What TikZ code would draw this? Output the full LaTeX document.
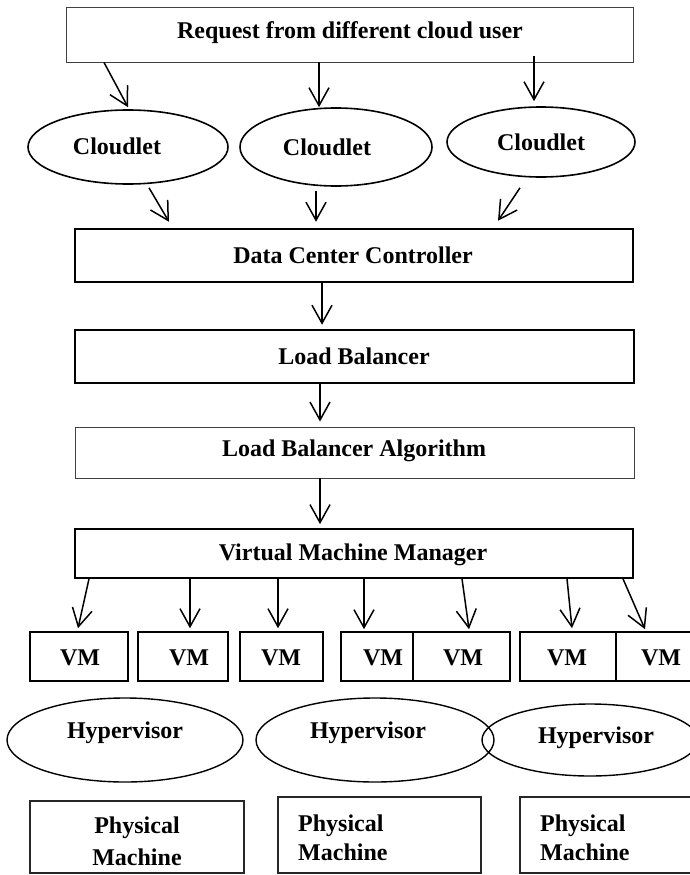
\documentclass[tikz,border=0pt]{standalone}
\usepackage{fontspec}
\setmainfont{Liberation Serif}
\usetikzlibrary{arrows.meta,shapes.geometric}
\tikzset{
  lbl/.style={font=\fontsize{24}{28}\selectfont\bfseries, inner sep=0pt, align=center},
  lblleft/.style={font=\fontsize{24}{29}\selectfont\bfseries, inner sep=0pt, align=left, anchor=west},
  thinbox/.style={draw=black!75, line width=0.9pt, fill=white, inner sep=0pt},
  thickbox/.style={draw=black, line width=2.5pt, fill=white, inner sep=0pt},
  midbox/.style={draw=black, line width=1.7pt, fill=white, inner sep=0pt},
  vmbox/.style={draw=black, line width=1.6pt, fill=white, inner sep=0pt, minimum height=49pt},
  pmbox/.style={draw=black!85, line width=1.3pt, inner sep=0pt},
  oval/.style={ellipse, draw=black, line width=1.6pt, inner sep=0pt},
  arr/.style={line width=1.5pt, -{Straight Barb[length=18pt,width=20pt,line width=1.5pt]}},
}
\begin{document}
\begin{tikzpicture}[x=1pt,y=-1pt]
\useasboundingbox (0,0) rectangle (690,875);
\fill[white] (0,0) rectangle (690,875);

% top request box
\node[thinbox, minimum width=567pt, minimum height=55pt] (top) at (349.5,34.5) {};
\node[lbl] (toptxt) at (350,33) {Request from different cloud user};

% cloudlets
\node[oval, minimum width=200pt, minimum height=74pt] (c1) at (128,147) {};
\node[oval, minimum width=192pt, minimum height=78pt] (c2) at (336,147) {};
\node[oval, minimum width=188pt, minimum height=70pt] (c3) at (541,142) {};
\node[lbl] (c1t) at (117,146) {Cloudlet};
\node[lbl] (c2t) at (327,147) {Cloudlet};
\node[lbl] (c3t) at (541,142) {Cloudlet};

\draw[arr] ([xshift=-245.5pt]top.south) -- ([yshift=2pt]c1.north);
\draw[arr] ([xshift=-30.5pt]top.south) -- ([xshift=-17pt,yshift=0pt]c2.north);
\draw[arr] ([xshift=184.5pt,yshift=6pt]top.south) -- ([xshift=-7pt,yshift=5pt]c3.north);

% main stack
\node[thickbox, minimum width=558pt, minimum height=53pt] (dcc) at (354,255.5) {};
\node[lbl] (dcct) at (353,255) {Data Center Controller};
\node[thickbox, minimum width=559pt, minimum height=53pt] (lb) at (354.5,356.5) {};
\node[lbl] (lbt) at (354,356) {Load Balancer};
\node[thinbox, minimum width=559pt, minimum height=51pt] (lba) at (354.5,452.5) {};
\node[lbl] (lbat) at (354,451) {Load Balancer Algorithm};
\node[midbox, minimum width=558pt, minimum height=49pt] (vmm) at (354,553.5) {};
\node[lbl] (vmmt) at (353,555) {Virtual Machine Manager};

\draw[arr] ([xshift=21pt,yshift=-3pt]c1.south) -- ([xshift=-185pt,yshift=6pt]dcc.north);
\draw[arr] ([xshift=-20pt,yshift=-4pt]c2.south) -- ([xshift=-38pt,yshift=6pt]dcc.north);
\draw[arr] ([xshift=-21pt,yshift=-10pt]c3.south) -- ([xshift=144pt,yshift=7pt]dcc.north);

\draw[arr] ([xshift=-32pt]dcc.south) -- ([xshift=-32.5pt,yshift=4pt]lb.north);
\draw[arr] ([xshift=-34.5pt]lb.south) -- ([xshift=-34.5pt,yshift=5pt]lba.north);
\draw[arr] ([xshift=-34.5pt]lba.south) -- ([xshift=-34pt,yshift=4pt]vmm.north);

% VMs
\node[vmbox, minimum width=98pt] (vm1) at (79,656.5) {};
\node[vmbox, minimum width=90pt] (vm2) at (183,656.5) {};
\node[vmbox, minimum width=83pt] (vm3) at (281.5,656.5) {};
\node[vmbox, minimum width=83pt] (vm4) at (382.5,656.5) {};
\node[vmbox, minimum width=97pt] (vm5) at (461.5,656.5) {};
\node[vmbox, minimum width=96pt] (vm6) at (568,656.5) {};
\node[vmbox, minimum width=90pt] (vm7) at (661,656.5) {};
\node[lbl] (vm1t) at (80,658) {VM};
\node[lbl] (vm2t) at (189,658) {VM};
\node[lbl] (vm3t) at (281,658) {VM};
\node[lbl] (vm4t) at (383,658) {VM};
\node[lbl] (vm5t) at (463,658) {VM};
\node[lbl] (vm6t) at (567,658) {VM};
\node[lbl] (vm7t) at (661,658) {VM};

\draw[arr] ([xshift=-265pt]vmm.south) -- ([xshift=-1pt,yshift=3pt]vm1.north);
\draw[arr] ([xshift=-164pt]vmm.south) -- ([xshift=7pt,yshift=3pt]vm2.north);
\draw[arr] ([xshift=-76pt]vmm.south) -- ([xshift=-3.5pt,yshift=3pt]vm3.north);
\draw[arr] ([xshift=10pt]vmm.south) -- ([xshift=-18.5pt,yshift=2pt]vm4.north);
\draw[arr] ([xshift=108pt]vmm.south) -- ([xshift=7.5pt,yshift=2pt]vm5.north);
\draw[arr] ([xshift=213pt]vmm.south) -- ([xshift=4pt,yshift=3pt]vm6.north);
\draw[arr] ([xshift=269pt]vmm.south) -- ([xshift=-16pt,yshift=2pt]vm7.north);

% hypervisors
\node[oval, line width=1.4pt, minimum width=236pt, minimum height=84pt] (h1) at (125,740) {};
\node[oval, line width=1.4pt, minimum width=238pt, minimum height=84pt] (h2) at (375,740) {};
\node[oval, line width=1.4pt, minimum width=216pt, minimum height=72pt] (h3) at (590,740) {};
\node[lbl] (h1t) at (125,733) {Hypervisor};
\node[lbl] (h2t) at (368,733) {Hypervisor};
\node[lbl] (h3t) at (596,738) {Hypervisor};

% physical machines
\node[pmbox, minimum width=214pt, minimum height=72pt] (pm1) at (137,837) {};
\node[pmbox, minimum width=203pt, minimum height=76pt] (pm2) at (379.5,835) {};
\node[pmbox, minimum width=177pt, minimum height=76pt] (pm3) at (608.5,835) {};
\node[lbl, font=\fontsize{24}{32}\selectfont\bfseries] (pm1t) at (137,841) {Physical\\Machine};
\node[lblleft] (pm2t) at (298,837.5) {Physical\\Machine};
\node[lblleft] (pm3t) at (540,837.5) {Physical\\Machine};
\end{tikzpicture}
\end{document}
